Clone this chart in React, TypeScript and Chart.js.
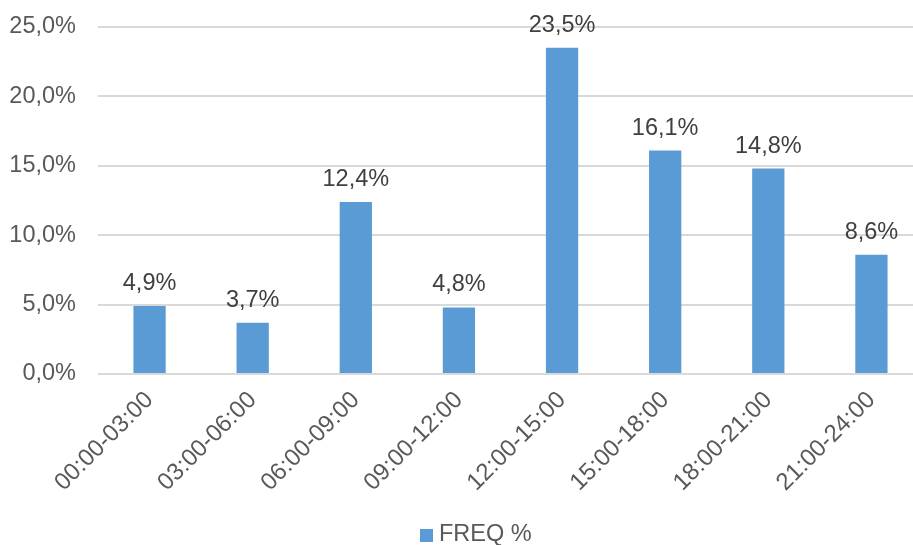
import React, { useEffect, useRef } from "react";
import { Chart, registerables } from "chart.js";

Chart.register(...registerables);

const categories = [
  "00:00-03:00",
  "03:00-06:00",
  "06:00-09:00",
  "09:00-12:00",
  "12:00-15:00",
  "15:00-18:00",
  "18:00-21:00",
  "21:00-24:00",
];
const freqPercent = [4.9, 3.7, 12.4, 4.8, 23.5, 16.1, 14.8, 8.6];
const seriesName = "FREQ %";
const yTicks = [0, 5, 10, 15, 20, 25];

const FONT = "'Liberation Sans', Arial, sans-serif";
const BAR_COLOR = "#5B9BD5";
const fmt = (v: number) => v.toFixed(1).replace(".", ",") + "%";

// Writes each bar's value just above it
const valueLabels = {
  id: "valueLabels",
  afterDatasetsDraw(chart: any) {
    const ctx = chart.ctx;
    const meta = chart.getDatasetMeta(0);
    ctx.save();
    ctx.font = `23.5px ${FONT}`;
    ctx.fillStyle = "#404040";
    ctx.textAlign = "center";
    ctx.textBaseline = "alphabetic";
    meta.data.forEach((bar: any, i: number) => {
      ctx.fillText(fmt(freqPercent[i]), bar.x, bar.y - 16);
    });
    ctx.restore();
  },
};

// Single-entry legend under the axis labels
const bottomLegend = {
  id: "bottomLegend",
  afterDraw(chart: any) {
    const ctx = chart.ctx;
    ctx.save();
    ctx.fillStyle = BAR_COLOR;
    ctx.fillRect(420, 529, 13, 13);
    ctx.font = `23.5px ${FONT}`;
    ctx.fillStyle = "#595959";
    ctx.textAlign = "left";
    ctx.textBaseline = "alphabetic";
    ctx.fillText(seriesName, 439, 541);
    ctx.restore();
  },
};

export default function App() {
  const canvasRef = useRef<HTMLCanvasElement>(null);

  useEffect(() => {
    const chart = new Chart(canvasRef.current!, {
      type: "bar",
      data: {
        labels: categories,
        datasets: [
          {
            label: seriesName,
            data: freqPercent,
            backgroundColor: BAR_COLOR,
            borderWidth: 0,
            categoryPercentage: 1,
            barPercentage: 0.313,
          },
        ],
      },
      options: {
        responsive: false,
        animation: false,
        layout: { padding: { top: 27, right: 1, left: 0, bottom: 0 } },
        plugins: {
          tooltip: { enabled: false },
          legend: { display: false },
        },
        scales: {
          x: {
            grid: { display: false },
            border: { display: false },
            ticks: {
              color: "#595959",
              font: { family: FONT, size: 24 },
              maxRotation: 45,
              minRotation: 45,
              padding: 4,
            },
            afterFit: (scale: any) => {
              scale.height = 171;
            },
          },
          y: {
            min: 0,
            max: 25,
            afterBuildTicks: (scale: any) => {
              scale.ticks = yTicks.map((v) => ({ value: v }));
            },
            grid: { color: "#D9D9D9", lineWidth: 2, drawTicks: false },
            border: { display: false },
            ticks: {
              color: "#595959",
              font: { family: FONT, size: 23.5 },
              padding: 22,
              callback: (v: any) => fmt(Number(v)),
            },
            afterFit: (scale: any) => {
              scale.width = 98;
              scale.paddingTop = 0;
              scale.paddingBottom = 0;
            },
          },
        },
      },
      plugins: [valueLabels, bottomLegend],
    });
    return () => chart.destroy();
  }, []);

  return (
    <div
      style={{
        position: "absolute",
        left: 0,
        top: 0,
        width: 913,
        height: 545,
        overflow: "hidden",
        background: "#fff",
      }}
    >
      <canvas ref={canvasRef} width={924} height={545} />
    </div>
  );
}
